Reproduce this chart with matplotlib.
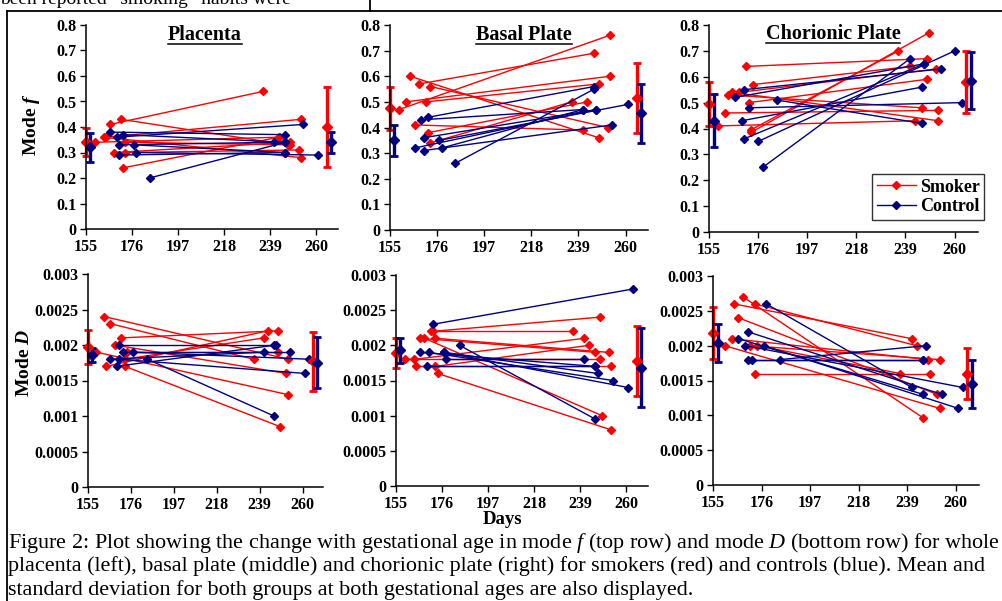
import numpy as np
import matplotlib
matplotlib.use("Agg")
import matplotlib.pyplot as plt
from matplotlib.lines import Line2D
from matplotlib.ticker import MultipleLocator, FormatStrFormatter

plt.rcParams["font.family"] = ["Liberation Serif", "DejaVu Serif"]
plt.rcParams["mathtext.fontset"] = "custom"
plt.rcParams["mathtext.rm"] = "Liberation Serif"
plt.rcParams["mathtext.it"] = "Liberation Serif:italic"
plt.rcParams["mathtext.bf"] = "Liberation Serif:bold:italic"

RED = "#FF0000"
BLUE = "#000080"

W, H = 1003, 601

DAY_TICKS = [155, 176, 197, 218, 239, 260]
MEAN_DAYS_SMOKER = [155, 265]
MEAN_DAYS_CONTROL = [157, 267]

# (early day, early value, late day, late value) per subject
PLAC_F_SMOKER = [(166, 0.41, 236, 0.54), (164, 0.36, 253, 0.43), (171, 0.43, 247, 0.33),
                 (159, 0.34, 243, 0.36), (163, 0.36, 253, 0.28), (168, 0.30, 248, 0.34),
                 (173, 0.30, 252, 0.31), (172, 0.24, 243, 0.36), (173, 0.34, 248, 0.33)]
PLAC_F_CONTROL = [(169, 0.36, 254, 0.41), (166, 0.38, 246, 0.37), (172, 0.37, 246, 0.34),
                  (170, 0.33, 241, 0.34), (170, 0.29, 246, 0.30), (178, 0.30, 261, 0.29),
                  (184, 0.20, 246, 0.34), (177, 0.33, 246, 0.30)]
PLAC_F_SMOKER_MSD = [(0.34, 0.055), (0.40, 0.155)]
PLAC_F_CONTROL_MSD = [(0.32, 0.057), (0.34, 0.04)]

BASAL_F_SMOKER = [(159, 0.47, 253, 0.76), (162, 0.50, 253, 0.60), (164, 0.60, 248, 0.36),
                  (168, 0.57, 246, 0.69), (173, 0.56, 252, 0.40), (171, 0.50, 248, 0.57),
                  (166, 0.41, 241, 0.39), (172, 0.38, 243, 0.50), (173, 0.34, 236, 0.50)]
BASAL_F_CONTROL = [(172, 0.44, 246, 0.56), (169, 0.43, 241, 0.47), (170, 0.36, 247, 0.47),
                   (177, 0.35, 261, 0.49), (170, 0.31, 254, 0.41), (178, 0.32, 241, 0.47),
                   (184, 0.26, 246, 0.55), (166, 0.32, 247, 0.47)]
BASAL_F_SMOKER_MSD = [(0.475, 0.085), (0.515, 0.138)]
BASAL_F_CONTROL_MSD = [(0.35, 0.06), (0.455, 0.115)]

CHOR_F_SMOKER = [(171, 0.64, 248, 0.67), (159, 0.41, 243, 0.43), (162, 0.46, 253, 0.47),
                 (163, 0.53, 246, 0.48), (165, 0.54, 253, 0.43), (168, 0.54, 252, 0.63),
                 (174, 0.57, 241, 0.64), (172, 0.50, 248, 0.59), (173, 0.385, 249, 0.77),
                 (173, 0.395, 236, 0.70)]
CHOR_F_CONTROL = [(170, 0.55, 254, 0.63), (166, 0.52, 247, 0.65), (172, 0.48, 263, 0.50),
                  (184, 0.51, 246, 0.42), (170, 0.36, 247, 0.65), (176, 0.35, 260, 0.70),
                  (178, 0.25, 241, 0.67), (169, 0.43, 246, 0.56)]
CHOR_F_SMOKER_MSD = [(0.495, 0.085), (0.58, 0.12)]
CHOR_F_CONTROL_MSD = [(0.43, 0.103), (0.585, 0.11)]

PLAC_D_SMOKER = [(163, 0.0024, 253, 0.0018), (166, 0.0023, 236, 0.0018), (171, 0.0021, 248, 0.0022),
                 (164, 0.0017, 243, 0.0022), (168, 0.0020, 252, 0.0016), (173, 0.0018, 241, 0.0021),
                 (159, 0.0019, 253, 0.0013), (174, 0.0019, 248, 0.0019), (173, 0.0017, 249, 0.00085)]
PLAC_D_CONTROL = [(170, 0.0020, 246, 0.0020), (172, 0.0019, 254, 0.0019), (177, 0.0019, 263, 0.0018),
                  (170, 0.0018, 261, 0.0016), (184, 0.0018, 246, 0.0010), (169, 0.0017, 247, 0.0020),
                  (166, 0.0018, 241, 0.0019)]
PLAC_D_SMOKER_MSD = [(0.00197, 0.00024), (0.00177, 0.00042)]
PLAC_D_CONTROL_MSD = [(0.00186, 0.0001), (0.00175, 0.00036)]

BASAL_D_SMOKER = [(172, 0.0022, 248, 0.0024), (171, 0.0022, 236, 0.0022), (166, 0.0021, 246, 0.0019),
                  (168, 0.0021, 249, 0.0010), (173, 0.0021, 252, 0.0019), (159, 0.0018, 248, 0.0018),
                  (163, 0.0018, 241, 0.0021), (164, 0.0017, 253, 0.0017), (173, 0.0017, 243, 0.0020),
                  (174, 0.0016, 253, 0.0008)]
BASAL_D_CONTROL = [(172, 0.0023, 263, 0.0028), (166, 0.0019, 246, 0.0017), (170, 0.0019, 254, 0.0015),
                   (177, 0.0019, 261, 0.0014), (178, 0.0018, 241, 0.0018), (184, 0.0020, 246, 0.00095),
                   (169, 0.0017, 246, 0.0017), (177, 0.0019, 247, 0.0016)]
BASAL_D_SMOKER_MSD = [(0.00189, 0.00021), (0.00178, 0.0005)]
BASAL_D_CONTROL_MSD = [(0.00193, 0.00018), (0.00168, 0.00056)]

CHOR_D_SMOKER = [(164, 0.0026, 241, 0.0021), (173, 0.0026, 243, 0.0020), (168, 0.0027, 246, 0.00096),
                 (166, 0.0024, 252, 0.0013), (163, 0.0021, 248, 0.0018), (171, 0.0020, 253, 0.0018),
                 (173, 0.0016, 249, 0.0016), (174, 0.0020, 236, 0.0016), (160, 0.0020, 253, 0.0011)]
CHOR_D_CONTROL = [(178, 0.0026, 241, 0.0014), (170, 0.0022, 254, 0.0013), (166, 0.0021, 246, 0.0013),
                  (169, 0.0020, 263, 0.0014), (177, 0.0020, 261, 0.0011), (170, 0.0018, 246, 0.0018),
                  (184, 0.0018, 247, 0.0020), (172, 0.0018, 246, 0.0018)]
CHOR_D_SMOKER_MSD = [(0.00218, 0.00037), (0.0016, 0.00037)]
CHOR_D_CONTROL_MSD = [(0.00204, 0.00027), (0.00145, 0.00034)]

TITLES = ["Placenta", "Basal Plate", "Chorionic Plate"]
CAPTION = [
    "Figure 2: Plot showing the change with gestational age in mode $f$ (top row) and mode $D$ (bottom row) for whole",
    "placenta (left), basal plate (middle) and chorionic plate (right) for smokers (red) and controls (blue). Mean and",
    "standard deviation for both groups at both gestational ages are also displayed.",
]


def rect(l, r, t, b):
    return [l / W, 1 - b / H, (r - l) / W, (b - t) / H]


# (axes rect in px, smoker, control, smoker msd, control msd, ymax, ystep)
panels = [
    (rect(86, 338, 25, 229), PLAC_F_SMOKER, PLAC_F_CONTROL, PLAC_F_SMOKER_MSD, PLAC_F_CONTROL_MSD, 0.8, 0.1),
    (rect(390, 648, 25, 230), BASAL_F_SMOKER, BASAL_F_CONTROL, BASAL_F_SMOKER_MSD, BASAL_F_CONTROL_MSD, 0.8, 0.1),
    (rect(709, 978, 25, 232), CHOR_F_SMOKER, CHOR_F_CONTROL, CHOR_F_SMOKER_MSD, CHOR_F_CONTROL_MSD, 0.8, 0.1),
    (rect(88, 323, 274, 487), PLAC_D_SMOKER, PLAC_D_CONTROL, PLAC_D_SMOKER_MSD, PLAC_D_CONTROL_MSD, 0.003, 0.0005),
    (rect(396, 648, 275, 486), BASAL_D_SMOKER, BASAL_D_CONTROL, BASAL_D_SMOKER_MSD, BASAL_D_CONTROL_MSD, 0.003, 0.0005),
    (rect(713, 979, 276, 485), CHOR_D_SMOKER, CHOR_D_CONTROL, CHOR_D_SMOKER_MSD, CHOR_D_CONTROL_MSD, 0.003, 0.0005),
]

fig = plt.figure(figsize=(W / 100, H / 100), dpi=100)

for pos, smk, ctl, smk_msd, ctl_msd, ymax, ystep in panels:
    ax = fig.add_axes(pos)
    for rows, col in ((smk, RED), (ctl, BLUE)):
        for d0, v0, d1, v1 in rows:
            ax.plot([d0, d1], [v0, v1], color=col, lw=1.0, marker="D", ms=3.8,
                    clip_on=False)
    for days, msd, col in ((MEAN_DAYS_SMOKER, smk_msd, RED), (MEAN_DAYS_CONTROL, ctl_msd, BLUE)):
        m = [a for a, _ in msd]
        s = [b for _, b in msd]
        ax.errorbar(days, m, yerr=s, fmt="D", color=col, ms=5, elinewidth=2.4,
                    capsize=3, capthick=2, clip_on=False)
    ax.set_xlim(155, 270)
    ax.set_ylim(0, ymax)
    ax.set_xticks(DAY_TICKS)
    ax.yaxis.set_major_locator(MultipleLocator(ystep))
    ax.yaxis.set_major_formatter(FormatStrFormatter("%g"))
    for sp in ("top", "right"):
        ax.spines[sp].set_visible(False)
    for sp in ("left", "bottom"):
        ax.spines[sp].set_linewidth(1.1)
    ax.tick_params(direction="out", length=4, width=1, labelsize=11.5, pad=3)
    for lab in ax.get_xticklabels() + ax.get_yticklabels():
        lab.set_fontweight("bold")
    ax.patch.set_alpha(0)

# titles, axis labels
title_texts = []
for txt, (x, y) in zip(TITLES, [(205, 35), (524, 35), (833, 34)]):
    t = fig.text(x / W, 1 - y / H, txt, ha="center", va="center",
                 fontsize=14.5, fontweight="bold")
    title_texts.append(t)

fig.text(32 / W, 1 - 125 / H, r"Mode $\mathbf{f}$", rotation=90, ha="center",
         va="center", fontsize=14, fontweight="bold")
fig.text(25 / W, 1 - 363 / H, r"Mode $\mathbf{D}$", rotation=90, ha="center",
         va="center", fontsize=14, fontweight="bold")
fig.text(503 / W, 1 - 520 / H, "Days", ha="center", va="center",
         fontsize=13.5, fontweight="bold")

# legend
handles = [Line2D([], [], color=RED, lw=1, marker="D", ms=3.8),
           Line2D([], [], color=BLUE, lw=1, marker="D", ms=3.8)]
leg = fig.legend(handles, ["Smoker", "Control"], loc="upper left",
                 bbox_to_anchor=(872 / W, 1 - 174 / H), frameon=True, fancybox=False,
                 edgecolor="black", prop={"weight": "bold", "size": 13},
                 handlelength=2.2, handletextpad=0.2, borderpad=0.25,
                 labelspacing=0.15, borderaxespad=0)
leg.get_frame().set_linewidth(1.0)

# caption
cap_texts = []
for i, line in enumerate(CAPTION):
    t = fig.text(8 / W, 1 - (543 + 23.5 * i) / H, line, ha="left", va="center",
                 fontsize=14)
    cap_texts.append(t)

# text fragment running above the frame (cut by the page edge, as in the scan)
fig.text(0, 1 - 4 / H, "been reported \u201csmoking\u201d habits were", ha="left",
         va="baseline", fontsize=14)

# frame lines of the page
fig.add_artist(Line2D([7 / W, 1], [1 - 11 / H, 1 - 11 / H], color="black", lw=1.3))
fig.add_artist(Line2D([7 / W, 7 / W], [0, 1 - 11 / H], color="black", lw=1.3))
fig.add_artist(Line2D([370 / W, 370 / W], [1 - 11 / H, 1], color="black", lw=1.3))

# fit caption width to the page, then underline titles
fig.canvas.draw()
r = fig.canvas.get_renderer()
w0 = cap_texts[0].get_window_extent(r).width
fs = 14 * 993 / w0
for t in cap_texts:
    t.set_fontsize(fs)
fig.canvas.draw()
for t in title_texts:
    bb = t.get_window_extent(r)
    yy = (bb.y0 + 1) / H
    fig.add_artist(Line2D([bb.x0 / W, bb.x1 / W], [yy, yy], color="black", lw=1.1))

fig.savefig("out.png", dpi=100)
